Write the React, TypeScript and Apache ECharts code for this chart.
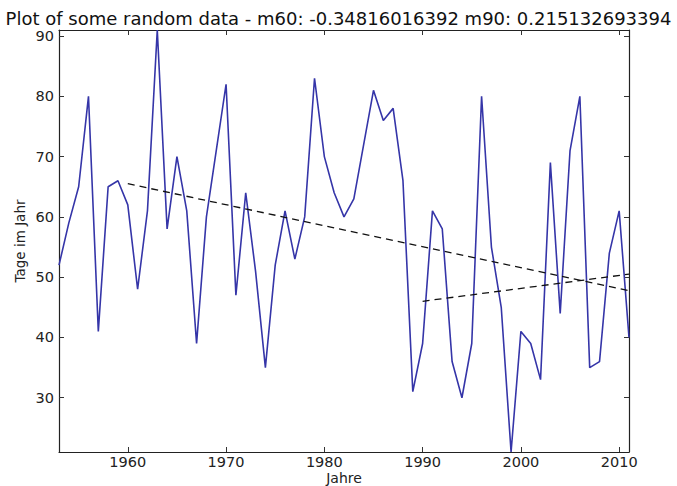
import React, { useEffect, useRef } from "react";
import * as echarts from "echarts";

const years: number[] = [];
for (let y = 1953; y <= 2011; y++) years.push(y);

const values = [
  52, 59, 65, 80, 41, 65, 66, 62, 48, 61,
  91, 58, 70, 61, 39, 60, 71, 82, 47, 64,
  51, 35, 52, 61, 53, 60, 83, 70, 64, 60,
  63, 72, 81, 76, 78, 66, 31, 39, 61, 58,
  36, 30, 39, 80, 55, 45, 21, 41, 39, 33,
  69, 44, 71, 80, 35, 36, 54, 61, 40,
];

const trend60 = [
  [1960, 65.5],
  [2011, 47.75],
];
const trend90 = [
  [1990, 46.0],
  [2011, 50.5],
];

const xTicks = [1960, 1970, 1980, 1990, 2000, 2010];
const yTicks = [30, 40, 50, 60, 70, 80, 90];

const titleText = "Plot of some random data - m60: -0.34816016392 m90: 0.215132693394";
const xName = "Jahre";
const yName = "Tage im Jahr";

const FONT = "DejaVu Sans";

export default function App() {
  const ref = useRef<HTMLDivElement>(null);
  useEffect(() => {
    if (!ref.current) return;
    const chart = echarts.init(ref.current, null, { renderer: "svg" });
    const axisLine = { show: true, lineStyle: { color: "#222", width: 1.2 } };
    const tick = (vals: number[]) => ({
      show: true,
      inside: true,
      length: 5,
      customValues: vals,
      lineStyle: { color: "#333", width: 1 },
    });
    chart.setOption({
      animation: false,
      backgroundColor: "#fff",
      title: {
        text: titleText,
        left: "center",
        top: 4,
        textStyle: { fontFamily: FONT, fontSize: 18, fontWeight: "normal", color: "#111" },
      },
      grid: {
        left: 59,
        top: 30,
        width: 570,
        height: 422,
        containLabel: false,
        outerBoundsMode: "none",
      },
      xAxis: [
        {
          type: "value",
          min: 1953,
          max: 2011,
          position: "bottom",
          axisLine,
          axisTick: tick(xTicks),
          splitLine: { show: false },
          axisLabel: {
            customValues: xTicks,
            formatter: (v: number) => String(v),
            fontFamily: FONT,
            fontSize: 14.5,
            color: "#222",
            margin: 2,
          },
          name: xName,
          nameLocation: "middle",
          nameGap: 19,
          nameMoveOverlap: false,
          nameTextStyle: {
            fontFamily: FONT,
            fontSize: 14,
            color: "#222",
            lineHeight: 14,
            verticalAlign: "top",
          },
        },
        {
          type: "value",
          min: 1953,
          max: 2011,
          position: "top",
          axisLine,
          axisTick: tick(xTicks),
          splitLine: { show: false },
          axisLabel: { show: false },
        },
      ],
      yAxis: [
        {
          type: "value",
          min: 21,
          max: 91,
          position: "left",
          axisLine,
          axisTick: tick(yTicks),
          splitLine: { show: false },
          axisLabel: {
            customValues: yTicks,
            formatter: (v: number) => String(v),
            fontFamily: FONT,
            fontSize: 14.5,
            color: "#222",
            margin: 5,
          },
          name: yName,
          nameLocation: "middle",
          nameGap: 32,
          nameMoveOverlap: false,
          nameRotate: 90,
          nameTextStyle: { fontFamily: FONT, fontSize: 13.5, color: "#222" },
        },
        {
          type: "value",
          min: 21,
          max: 91,
          position: "right",
          axisLine,
          axisTick: tick(yTicks),
          splitLine: { show: false },
          axisLabel: { show: false },
        },
      ],
      series: [
        {
          type: "line",
          data: years.map((y, i) => [y, values[i]]),
          showSymbol: false,
          symbol: "none",
          clip: true,
          lineStyle: { color: "#3535a8", width: 1.6 },
          z: 3,
        },
        {
          type: "line",
          data: trend60,
          showSymbol: false,
          symbol: "none",
          lineStyle: { color: "#111", width: 1.3, type: [7, 5] },
          z: 4,
        },
        {
          type: "line",
          data: trend90,
          showSymbol: false,
          symbol: "none",
          lineStyle: { color: "#111", width: 1.3, type: [7, 5] },
          z: 4,
        },
      ],
    });
    return () => chart.dispose();
  }, []);
  return (
    <div
      ref={ref}
      style={{ position: "absolute", left: 0, top: 0, width: 677, height: 486, background: "#fff" }}
    />
  );
}
